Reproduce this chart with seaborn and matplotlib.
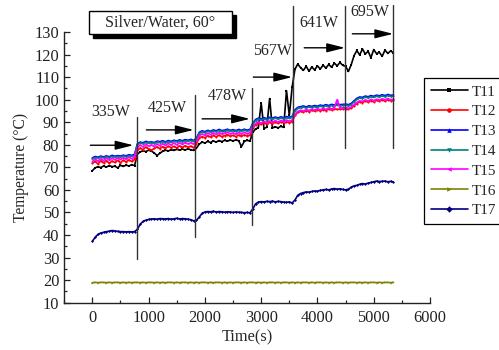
import numpy as np
import pandas as pd
import matplotlib
matplotlib.use("Agg")
import matplotlib.pyplot as plt
import matplotlib.patches as mpatches
import seaborn as sns

# ---------------- data ----------------
TIME = list(range(0, 5351, 50))  # sampling grid (s)

T11 = [68.5, 69.8, 70.3, 69.9, 70.6, 70.1, 70.8, 70.3, 70.5, 69.8, 70.9, 70.4, 71.0, 70.6, 71.2, 70.8,
       75.8, 76.9, 77.3, 77.0, 77.6, 77.2, 76.4, 75.2, 76.3, 77.1, 77.6, 77.3, 77.8, 77.5, 78.0, 77.6, 78.1, 77.7, 78.2, 77.8, 77.5,
       78.5, 80.3, 81.2, 80.8, 81.5, 81.0, 81.7, 81.2, 81.9, 81.4, 82.0, 81.6, 82.1, 81.7, 82.2, 81.8, 79.2, 81.5, 82.0, 81.6,
       85.5, 87.0, 87.6, 98.5, 87.2, 87.8, 100.5, 87.4, 88.0, 87.5, 88.2, 87.7, 104.0, 93.0, 105.5,
       113.5, 115.8, 114.2, 113.0, 114.8, 112.6, 114.5, 113.2, 115.0, 113.6, 115.3, 114.0, 115.6, 114.4, 116.2, 115.0, 116.5, 115.2,
       114.8, 112.5, 115.5, 119.5, 121.8, 119.8, 122.5, 120.2, 121.5, 118.6, 122.2, 120.4, 121.0, 119.2, 122.0, 120.5, 121.6, 120.8]

T12 = [71.8, 72.6, 71.5, 72.9, 72.0, 73.0, 71.8, 72.8, 72.2, 73.1, 72.0, 73.2, 72.4, 73.3, 72.6, 73.5,
       77.5, 78.6, 77.8, 79.0, 78.2, 77.6, 78.4, 79.1, 78.3, 79.2, 78.5, 79.4, 78.7, 79.3, 78.6, 79.5, 78.8, 79.6, 78.9, 79.4, 78.7,
       80.5, 83.0, 83.6, 83.1, 84.0, 83.4, 84.2, 83.5, 84.3, 83.6, 84.1, 84.5, 83.8, 84.2, 83.6, 84.3, 83.8, 84.4, 83.9, 84.2,
       87.5, 88.8, 89.5, 89.0, 89.7, 89.2, 89.9, 89.4, 90.0, 89.5, 90.1, 89.7, 90.2, 89.8, 90.3,
       93.0, 94.4, 94.8, 94.5, 95.1, 94.7, 95.3, 94.9, 95.5, 95.0, 95.6, 95.2, 95.8, 95.4, 96.0, 95.7, 95.8, 95.9,
       96.0, 95.8, 96.3, 97.3, 98.3, 99.0, 98.7, 99.4, 98.9, 99.6, 99.1, 99.7, 99.3, 99.9, 99.4, 100.0, 99.5, 99.7]

T13 = [74.2, 74.8, 74.5, 75.0, 74.6, 75.1, 74.7, 75.3, 74.9, 75.2, 75.0, 75.4, 75.1, 75.6, 75.3, 75.8,
       80.4, 81.2, 80.9, 81.5, 81.1, 81.3, 81.0, 81.6, 81.4, 81.8, 81.3, 81.9, 81.5, 82.0, 81.7, 82.2, 81.8, 82.3, 82.0, 82.4, 81.9,
       83.0, 85.5, 86.2, 85.8, 86.4, 86.0, 86.6, 86.2, 86.8, 86.3, 86.5, 86.9, 86.4, 86.7, 86.3, 86.8, 86.4, 86.9, 86.5, 86.8,
       89.5, 91.2, 91.8, 91.5, 92.0, 91.6, 92.2, 91.8, 92.3, 91.9, 92.4, 92.0, 92.5, 92.2, 92.6,
       95.5, 96.6, 96.9, 97.2, 96.8, 97.3, 97.0, 97.4, 97.1, 97.6, 97.3, 97.8, 97.4, 97.9, 97.6, 98.1, 97.8, 97.9,
       98.0, 97.8, 98.3, 99.5, 100.6, 101.2, 101.0, 101.6, 101.3, 101.8, 101.5, 102.0, 101.7, 102.2, 101.8, 102.3, 101.9, 102.1]

T14 = [73.8, 74.3, 74.1, 74.6, 74.2, 74.7, 74.3, 74.8, 74.5, 74.8, 74.6, 75.0, 74.7, 75.1, 74.9, 75.3,
       80.0, 80.7, 80.5, 81.0, 80.7, 80.9, 80.6, 81.1, 81.0, 81.3, 80.9, 81.4, 81.1, 81.5, 81.3, 81.7, 81.4, 81.8, 81.6, 81.9, 81.5,
       82.6, 85.0, 85.7, 85.4, 85.9, 85.6, 86.1, 85.8, 86.3, 85.9, 86.0, 86.4, 86.0, 86.2, 85.9, 86.3, 86.0, 86.4, 86.1, 86.3,
       89.0, 90.7, 91.3, 91.0, 91.5, 91.1, 91.7, 91.3, 91.8, 91.4, 91.9, 91.5, 92.0, 91.7, 92.1,
       95.0, 96.1, 96.4, 96.7, 96.3, 96.8, 96.5, 96.9, 96.6, 97.1, 96.8, 97.3, 96.9, 97.4, 97.1, 97.6, 97.3, 97.4,
       97.5, 97.3, 97.8, 99.0, 100.1, 100.7, 100.5, 101.1, 100.8, 101.3, 101.0, 101.5, 101.2, 101.7, 101.3, 101.8, 101.4, 101.6]

T15 = [72.5, 73.6, 72.8, 73.9, 73.0, 74.1, 73.2, 74.0, 73.4, 74.2, 73.5, 74.3, 73.6, 74.5, 73.8, 74.6,
       78.8, 79.9, 79.1, 80.2, 79.4, 80.0, 79.2, 80.4, 79.6, 80.5, 79.7, 80.6, 79.9, 80.8, 80.0, 80.9, 80.2, 81.0, 80.4, 80.9, 80.3,
       81.5, 84.0, 84.8, 84.2, 85.1, 84.5, 85.3, 84.6, 85.4, 84.8, 85.2, 85.6, 84.9, 85.3, 84.7, 85.4, 84.9, 85.5, 85.0, 85.3,
       88.0, 89.4, 90.2, 89.6, 90.4, 89.8, 90.6, 90.0, 90.7, 90.1, 90.8, 90.3, 90.9, 90.5, 91.0,
       93.5, 94.8, 95.3, 95.0, 95.6, 95.2, 95.8, 95.4, 96.0, 95.5, 96.1, 95.7, 96.3, 95.9, 96.5, 100.0, 96.3, 96.4,
       96.5, 96.2, 96.8, 97.8, 98.8, 99.5, 99.2, 99.9, 99.4, 100.1, 99.6, 100.2, 99.8, 100.4, 99.9, 100.5, 100.0, 100.2]

T16 = [18.9, 19.0, 18.9, 19.0, 19.0, 18.9, 19.0, 18.9, 19.0, 19.0, 18.9, 19.0,
       18.9, 19.0, 18.9, 19.0, 19.0, 18.9, 19.0, 18.9, 19.0, 19.0, 18.9, 19.0,
       18.9, 19.0, 18.9, 19.0, 19.0, 18.9, 19.0, 18.9, 19.0, 19.0, 18.9, 19.0,
       18.9, 19.0, 18.9, 19.0, 19.0, 18.9, 19.0, 18.9, 19.0, 19.0, 18.9, 19.0,
       18.9, 19.0, 18.9, 19.0, 19.0, 18.9, 19.0, 18.9, 19.0, 19.0, 18.9, 19.0,
       18.9, 19.0, 18.9, 19.0, 19.0, 18.9, 19.0, 18.9, 19.0, 19.0, 18.9, 19.0,
       18.9, 19.0, 18.9, 19.0, 19.0, 18.9, 19.0, 18.9, 19.0, 19.0, 18.9, 19.0,
       18.9, 19.0, 18.9, 19.0, 19.0, 18.9, 19.0, 18.9, 19.0, 19.0, 18.9, 19.0,
       18.9, 19.0, 18.9, 19.0, 19.0, 18.9, 19.0, 18.9, 19.0, 19.0, 18.9, 19.0]

T17 = [37.2, 39.0, 40.3, 40.9, 41.2, 41.5, 41.7, 42.0, 41.8, 41.6, 41.5, 41.5, 41.4, 41.5, 41.4, 41.5,
       42.5, 44.8, 46.0, 46.6, 46.9, 47.1, 47.2, 47.0, 47.3, 47.2, 47.1, 47.3, 47.0, 47.2, 47.4, 47.1, 47.3, 47.2, 47.0, 46.8, 46.3,
       46.5, 48.0, 49.6, 50.2, 50.4, 50.3, 50.5, 50.2, 50.4, 50.3, 50.1, 50.3, 50.2, 50.0, 50.2, 50.1, 50.0, 49.9, 50.0, 49.8,
       51.5, 53.8, 54.6, 54.8, 54.7, 54.9, 54.8, 55.0, 54.7, 54.9, 54.8, 54.6, 54.5, 54.7, 54.2,
       55.5, 57.6, 58.4, 58.8, 59.1, 59.0, 59.3, 59.5, 59.4, 59.8, 60.0, 60.2, 60.0, 60.4, 60.6, 60.3, 60.5, 60.2,
       60.0, 60.3, 61.2, 61.8, 62.0, 62.5, 62.8, 62.6, 63.0, 63.3, 63.6, 63.9, 63.7, 63.8, 63.9, 63.6, 63.8, 63.5]

SENSORS = ["T11", "T12", "T13", "T14", "T15", "T16", "T17"]
SERIES = [T11, T12, T13, T14, T15, T16, T17]

# heater power steps: switch times, labels
SWITCH_TIMES = [785, 1830, 2840, 3570, 4495, 5345]
POWER_LABELS = ["335W", "425W", "478W", "567W", "641W", "695W"]

# ---------------- styling ----------------
COLORS = ["#000000", "#ff0000", "#0000ff", "#008080", "#ff00ff", "#808000", "#000080"]
MARKERS = ["s", "o", "^", "v", "<", ">", "D"]

sns.set_theme(style="ticks")
plt.rcParams["font.family"] = ["Liberation Serif", "DejaVu Serif"]
plt.rcParams["mathtext.fontset"] = "stix"

df = pd.concat([pd.DataFrame({"Time": TIME, "Temp": vals, "Sensor": name})
                for name, vals in zip(SENSORS, SERIES)], ignore_index=True)

fig = plt.figure(figsize=(4.99, 3.50), dpi=100)
ax = fig.add_axes([64.2 / 499, 1 - 302.7 / 350, (430 - 64.2) / 499, (302.7 - 32) / 350])

sns.lineplot(data=df, x="Time", y="Temp", hue="Sensor", style="Sensor",
             palette=dict(zip(SENSORS, COLORS)), markers=dict(zip(SENSORS, MARKERS)),
             dashes=False, linewidth=1.2, markersize=1.5, markeredgewidth=0,
             errorbar=None, ax=ax, legend=True)

ax.set_xlim(-500, 6000)
ax.set_ylim(10, 130)
ax.set_xticks(range(0, 6001, 1000))
ax.set_xticks(range(-500, 6001, 500), minor=True)
ax.set_yticks(range(10, 131, 10))
ax.set_yticks(range(10, 131, 5), minor=True)
ax.tick_params(axis="x", which="major", pad=5)
ax.tick_params(axis="both", which="major", direction="in", length=4.5, width=0.9,
               labelsize=11.8, colors="#222222")
ax.tick_params(axis="both", which="minor", direction="in", length=2.5, width=0.9)
for s in ["top", "right"]:
    ax.spines[s].set_visible(False)
for s in ["left", "bottom"]:
    ax.spines[s].set_linewidth(1.0)
    ax.spines[s].set_color("#222222")
ax.set_xlabel("Time(s)", fontsize=11.8, labelpad=3)
ax.set_ylabel("Temperature (°C)", fontsize=11.2, labelpad=4)

# vertical switch lines (from, to temperatures)
VLINE_SPANS = [(29.5, 92.5), (39.0, 102.0), (44.5, 105.0), (78.0, 141.5), (78.5, 141.5), (78.5, 142.0)]
for t, (y0, y1) in zip(SWITCH_TIMES, VLINE_SPANS):
    ax.plot([t, t], [y0, y1], color="#333333", lw=1.0, clip_on=False, zorder=5)

# arrows and power labels
ARROWS = [(-35, 730, 79.8), (960, 1800, 86.6), (1950, 2800, 91.5),
          (2860, 3550, 110.0), (3765, 4490, 123.0), (4620, 5345, 129.2)]
LABEL_POS = [(320, 94.5), (1330, 96.5), (2400, 101.5), (3210, 121.5), (4030, 134.0), (4940, 139.0)]
for (x0, x1, y), (lx, ly), lab in zip(ARROWS, LABEL_POS, POWER_LABELS):
    ax.annotate("", xy=(x1, y), xytext=(x0, y), annotation_clip=False,
                arrowprops=dict(arrowstyle="-|>,head_length=1.0,head_width=0.25",
                                color="black", lw=1.0, mutation_scale=11,
                                shrinkA=0, shrinkB=0))
    ax.text(lx, ly, lab, fontsize=11.5, ha="center", va="center", clip_on=False)

# title box with shadow
bx, by, bw, bh = 89 / 499, 1 - 34 / 350, 143 / 499, 23 / 350
fig.patches.append(mpatches.Rectangle((bx + 4 / 499, by - 4 / 350), bw, bh, transform=fig.transFigure,
                                      facecolor="black", edgecolor="black", lw=1, zorder=1))
fig.patches.append(mpatches.Rectangle((bx, by), bw, bh, transform=fig.transFigure,
                                      facecolor="white", edgecolor="black", lw=1, zorder=2))
fig.text(bx + bw / 2, by + bh / 2, "Silver/Water, 60°", fontsize=11.5, ha="center", va="center", zorder=3)

# legend
handles, labels = ax.get_legend_handles_labels()
ax.legend(handles=handles, labels=labels, loc="upper left",
          bbox_to_anchor=(424 / 499, 1 - 78 / 350), bbox_transform=fig.transFigure,
          fontsize=11, frameon=True, fancybox=False, edgecolor="black", framealpha=1,
          handlelength=2.4, handletextpad=0.3, labelspacing=0.4, borderpad=0.45,
          borderaxespad=0, markerscale=2.2)
ax.get_legend().get_frame().set_linewidth(0.9)

fig.savefig("out.png", dpi=100)
